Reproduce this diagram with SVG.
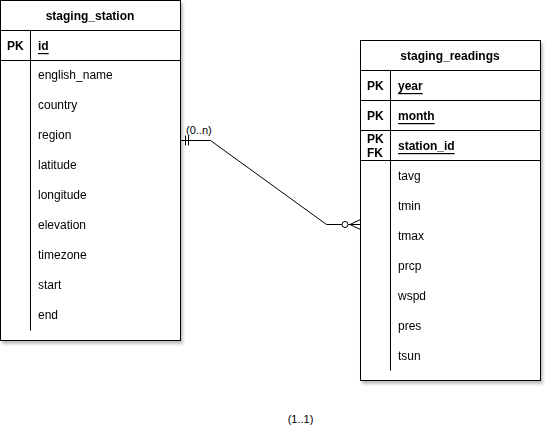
<svg xmlns="http://www.w3.org/2000/svg" width="552" height="447" viewBox="0 0 552 447">
<defs>
<filter id="sh" x="-10%" y="-10%" width="130%" height="130%">
<feDropShadow dx="2" dy="3" stdDeviation="1.5" flood-color="#000" flood-opacity="0.25"/>
</filter>
</defs>
<style>
.box{fill:#fff;stroke:#000;stroke-width:1}
.ln{stroke:#000;stroke-width:1;fill:none}
.t{font-family:"Liberation Sans",Arial,sans-serif;font-size:12px;fill:#000;dominant-baseline:central}
.b{font-weight:bold}
.u{text-decoration:underline}
.h{text-anchor:middle;font-weight:bold}
.lbl{font-family:"Liberation Sans",Arial,sans-serif;font-size:11px;fill:#000}
</style>
<rect width="552" height="447" fill="#fff"/>
<g id="staging_station" filter="url(#sh)">
<rect class="box" x="0.5" y="0.5" width="180" height="340"/>
<line class="ln" x1="0.5" y1="30.5" x2="180.5" y2="30.5"/>
<line class="ln" x1="0.5" y1="60.5" x2="180.5" y2="60.5"/>
<line class="ln" x1="30.5" y1="30.5" x2="30.5" y2="60.5"/>
<line class="ln" x1="30.5" y1="60.5" x2="30.5" y2="330.5"/>
<text class="t h" x="90" y="16">staging_station</text>
<text class="t b" x="7" y="46">PK</text>
<text class="t b u" x="38" y="46">id</text>
<text class="t" x="38" y="75">english_name</text>
<text class="t" x="38" y="105">country</text>
<text class="t" x="38" y="135">region</text>
<text class="t" x="38" y="165">latitude</text>
<text class="t" x="38" y="195">longitude</text>
<text class="t" x="38" y="225">elevation</text>
<text class="t" x="38" y="255">timezone</text>
<text class="t" x="38" y="285">start</text>
<text class="t" x="38" y="315">end</text>
</g>
<g id="staging_readings" filter="url(#sh)">
<rect class="box" x="360.5" y="40.5" width="180" height="340"/>
<line class="ln" x1="360.5" y1="70.5" x2="540.5" y2="70.5"/>
<line class="ln" x1="360.5" y1="100.5" x2="540.5" y2="100.5"/>
<line class="ln" x1="360.5" y1="130.5" x2="540.5" y2="130.5"/>
<line class="ln" x1="360.5" y1="160.5" x2="540.5" y2="160.5"/>
<line class="ln" x1="390.5" y1="70.5" x2="390.5" y2="160.5"/>
<line class="ln" x1="390.5" y1="160.5" x2="390.5" y2="370.5"/>
<text class="t h" x="450" y="56">staging_readings</text>
<text class="t b" x="367" y="86">PK</text>
<text class="t b u" x="398" y="86">year</text>
<text class="t b" x="367" y="116">PK</text>
<text class="t b u" x="398" y="116">month</text>
<text class="t b" x="367" y="139">PK</text>
<text class="t b" x="367" y="153">FK</text>
<text class="t b u" x="398" y="146">station_id</text>
<text class="t" x="398" y="176">tavg</text>
<text class="t" x="398" y="206">tmin</text>
<text class="t" x="398" y="236">tmax</text>
<text class="t" x="398" y="266">prcp</text>
<text class="t" x="398" y="296">wspd</text>
<text class="t" x="398" y="326">pres</text>
<text class="t" x="398" y="356">tsun</text>
</g>
<g id="connectors">
<polyline class="ln" points="180.5,140.5 210.5,140.5 326.5,224.5 342,224.5"/>
<line class="ln" x1="185.5" y1="135.5" x2="185.5" y2="145.5"/>
<line class="ln" x1="188.5" y1="135.5" x2="188.5" y2="145.5"/>
<circle class="ln" cx="345" cy="224.5" r="3" fill="#fff"/>
<line class="ln" x1="348" y1="224.5" x2="360.5" y2="224.5"/>
<line class="ln" x1="350" y1="224.5" x2="360.5" y2="219.5"/>
<line class="ln" x1="350" y1="224.5" x2="360.5" y2="229.5"/>
<text class="lbl" x="186" y="134">(0..n)</text>
<text class="lbl" x="300.5" y="423" text-anchor="middle">(1..1)</text>
</g>
</svg>
